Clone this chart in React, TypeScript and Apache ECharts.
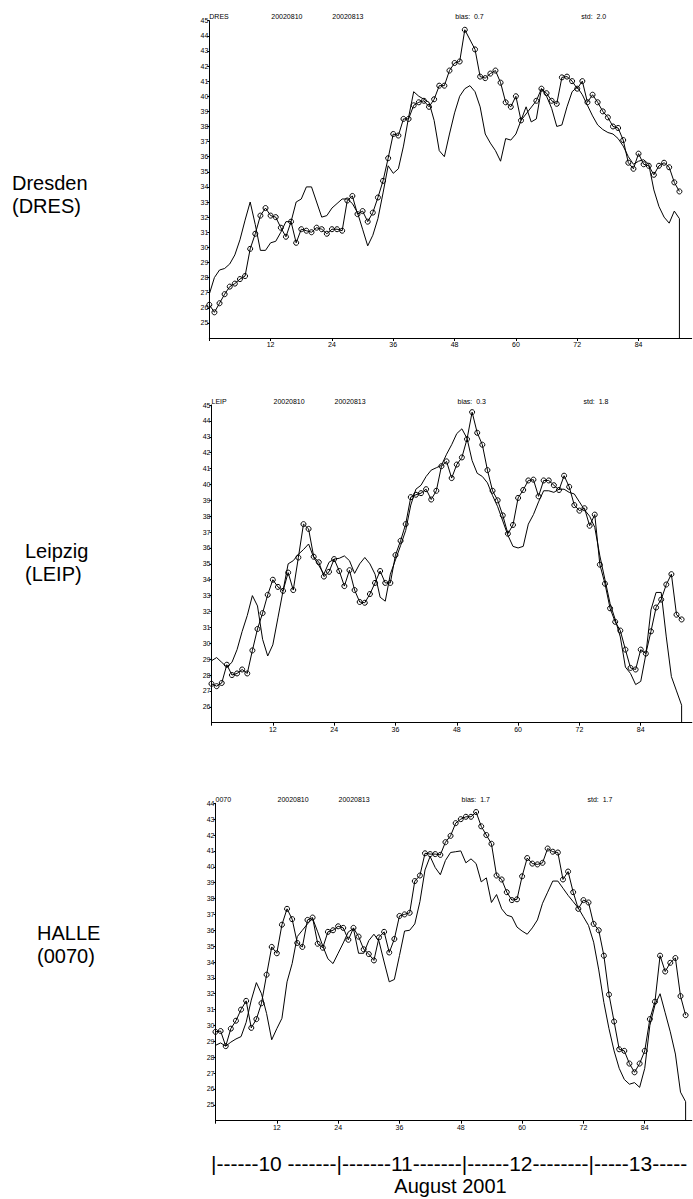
import React, { useEffect, useRef } from "react";
import * as echarts from "echarts";

// ---------- text content ----------
const stationNames = ["Dresden", "Leipzig", "HALLE"];
const stationCodes = ["DRES", "LEIP", "0070"];
const runDates = ["20020810", "20020813"];
const biasValues = ["0.7", "0.3", "1.7"];
const stdValues = ["2.0", "1.8", "1.7"];
const dayAxisText = "|------10 -------|-------11-------|------12--------|-----13-----";
const monthLabel = "August 2001";

// ---------- axes ----------
const yMins = [24, 25, 24];
const yMaxs = [45, 45, 44];
const xTickValues = [0, 12, 24, 36, 48, 60, 72, 84];
const xLabelValues = [12, 24, 36, 48, 60, 72, 84];

// ---------- data (hourly, hour 0..92) ----------
const obsDRES = [
  26.2, 25.7, 26.3, 26.9, 27.4, 27.6, 27.9, 28.1, 29.9, 30.9,
  32.1, 32.6, 32.1, 32.0, 31.3, 30.7, 31.7, 30.3, 31.2, 31.1,
  31.0, 31.3, 31.2, 30.9, 31.2, 31.2, 31.1, 33.1, 33.4, 32.2,
  32.4, 31.7, 32.3, 33.3, 34.4, 35.9, 37.5, 37.4, 38.5, 38.5,
  39.4, 39.6, 39.7, 39.3, 39.8, 40.7, 40.7, 41.7, 42.2, 42.3,
  44.4, null, 43.1, 41.3, 41.2, 41.5, 41.7, 40.9, 39.6, 39.3,
  40.0, 38.4, null, null, 39.7, 40.5, 40.2, 39.7, 39.5, 41.25,
  41.3, 41.0, 40.5, 41.0, 39.6, 40.1, 39.6, 39.0, 38.6, 38.0,
  37.9, 37.1, 35.6, 35.2, 36.2, 35.5, 35.4, 34.8, 35.4, 35.6,
  35.3, 34.3, 33.7,
];
const modelDRES = [
  26.9, 28.0, 28.5, 28.6, 28.9, 29.5, 30.5, 31.8, 33.0, 31.5,
  29.8, 29.8, 30.3, 30.4, 31.0, 31.7, 31.7, 33.0, 33.2, 34.0,
  34.0, 33.0, 32.0, 32.1, 32.6, 32.9, 33.2, 33.2, 32.9, 32.3,
  31.2, 30.1, 30.8, 31.9, 33.6, 35.4, 34.9, 35.2, 36.7, 38.6,
  40.3, 40.0, 39.8, 39.6, 38.4, 36.4, 36.0, 37.5, 38.9, 40.0,
  40.5, 40.7, 40.3, 39.3, 37.5, 36.9, 36.4, 35.7, 37.2, 37.1,
  37.5, 38.4, 39.3, 38.3, 38.5, 40.5, 40.0, 39.2, 38.0, 38.1,
  39.3, 40.3, 40.6, 40.1, 39.4, 38.7, 38.1, 37.8, 37.6, 37.5,
  37.2, 36.7, 36.0, 35.5, 35.7, 35.8, 35.5, 33.8, 32.7, 32.0,
  31.6, 32.4, 31.9,
];
const obsLEIP = [
  27.45, 27.3, 27.5, 28.65, 28.0, 28.1, 28.35, 28.1, 29.55, 30.9,
  31.9, 33.05, 34.0, 33.55, 33.3, 34.45, 33.35, 35.4, 37.5, 37.2,
  35.45, 35.1, 34.2, 34.5, 35.3, 34.55, 33.6, 34.6, 33.35, 32.6,
  32.55, 33.1, 33.8, 34.55, 33.8, 33.8, 35.55, 36.45, 37.5, 39.2,
  39.35, 39.45, 39.7, 39.05, 39.6, 41.15, 41.45, 40.4, 41.25, 41.7,
  42.85, 44.55, 43.25, 42.5, 40.9, 39.6, 39.0, 38.05, 36.9, 37.45,
  39.15, 39.65, 40.25, 40.3, 39.25, 40.25, 40.25, 39.95, 39.65, 40.55,
  39.85, 38.7, 38.35, 38.5, 37.4, 38.1, 34.95, 33.75, 32.2, 31.35,
  30.8, 29.6, 28.45, 28.35, 29.6, 29.35, 30.75, 32.25, 32.75, 33.7,
  34.35, 31.8, 31.5,
];
const modelLEIP = [
  28.9, 29.1, 28.8, 28.5, 28.8, 29.6, 30.75, 31.75, 33.0, 32.35,
  30.25, 29.2, 29.9, 31.6, 33.3, 35.0, 35.2, 35.6, 35.9, 36.25,
  35.4, 34.9, 34.35, 35.1, 35.3, 35.35, 35.5, 35.2, 34.4, 35.0,
  35.4, 35.0, 34.35, 32.9, 32.65, 34.35, 35.25, 36.15, 37.1, 38.7,
  39.7, 39.95, 40.5, 40.9, 41.05, 41.2, 41.9, 42.5, 43.2, 43.5,
  42.9, 41.5, 40.7, 40.5, 40.1, 39.3, 38.6, 37.7, 36.8, 36.1,
  36.0, 36.1, 37.5, 38.1, 38.9, 39.6, 39.6, 39.5, 39.7, 39.7,
  39.5, 39.4, 38.9, 38.4, 38.0, 37.3, 35.5, 34.0, 32.5, 31.5,
  30.4, 28.5, 28.1, 27.4, 27.6, 29.3, 32.1, 33.2, 33.2, 30.4,
  27.9, 27.0, 26.1,
];
const obs0070 = [
  29.6, 29.65, 28.7, 29.8, 30.3, 31.0, 31.55, 29.85, 30.4, 31.4,
  33.2, 34.95, 34.55, 36.35, 37.35, 36.7, 35.2, 34.95, 36.65, 36.8,
  35.15, 34.9, 35.9, 36.0, 36.25, 36.15, 35.4, 36.15, 35.6, 34.8,
  34.5, 34.1, 35.55, 35.9, 34.6, 35.45, 36.9, 37.0, 37.1, 39.1,
  39.45, 40.85, 40.8, 40.8, 40.75, 41.55, 41.95, 42.75, 43.0, 43.15,
  43.15, 43.45, 42.55, 42.0, 41.45, 39.45, 39.2, 38.4, 37.9, 37.95,
  39.4, 40.55, 40.2, 40.15, 40.25, 41.15, 40.95, 40.9, 39.2, 39.7,
  38.4, 37.35, 37.9, 37.75, 36.4, 36.0, 34.4, 31.95, 30.25, 28.5,
  28.4, 27.6, 27.05, 27.6, 28.4, 30.4, 31.5, 34.4, 33.4, 33.95,
  34.25, 31.85, 30.65,
];
const model0070 = [
  28.75, 28.9, 28.7, 28.95, 29.15, 29.3, 30.2, 31.6, 32.7, 32.0,
  30.75, 29.1, 29.8, 30.45, 32.75, 33.9, 35.6, 36.0, 36.4, 36.75,
  35.9, 35.0, 34.2, 33.9, 34.55, 35.2, 35.9, 36.1, 34.55, 34.55,
  35.35, 35.75, 35.3, 34.0, 32.75, 32.9, 34.4, 35.95, 36.0, 36.4,
  37.8, 39.8, 40.65, 39.95, 39.5, 40.4, 40.9, 40.95, 41.0, 40.25,
  40.5, 40.2, 39.05, 39.3, 37.75, 38.25, 37.35, 36.95, 36.85, 36.2,
  35.95, 35.75, 36.15, 36.65, 37.7, 38.4, 39.1, 39.1, 38.65, 38.2,
  37.8, 37.4, 36.85, 36.3, 35.25, 33.5, 31.45, 29.8, 28.4, 27.3,
  26.6, 26.3, 26.4, 26.1, 27.3, 30.0, 31.3, 32.0, 30.8, 29.6,
  28.2, 25.8, 25.2,
];

const observed = [obsDRES, obsLEIP, obs0070];
const modelled = [modelDRES, modelLEIP, model0070];

// ---------- layout (pixels) ----------
const HOUR_PX = 5.11;
const panelLayout = [
  { left: 209.3, top: 20.7, height: 317.3, xMax: 94.4, labelX: 12, labelY: 183 },
  { left: 211.5, top: 405, height: 317.7, xMax: 94, labelX: 25, labelY: 551 },
  { left: 215.5, top: 803.3, height: 317.4, xMax: 93.2, labelX: 37, labelY: 933 },
];
const headerOffsets = [0, 62, 123, 246, 372];
const FONT = "'Liberation Sans', Arial, sans-serif";

function buildOption() {
  const grid = panelLayout.map((p) => ({
    left: p.left,
    top: p.top,
    width: p.xMax * HOUR_PX,
    height: p.height,
    containLabel: false,
  }));

  const xAxis = panelLayout.map((p, i) => ({
    type: "value",
    gridIndex: i,
    min: 0,
    max: p.xMax,
    interval: 12,
    axisLine: { show: true, onZero: false, lineStyle: { color: "#000", width: 1 } },
    axisTick: { show: true, length: 3, customValues: xTickValues, lineStyle: { color: "#000", width: 1 } },
    axisLabel: {
      show: true,
      customValues: xLabelValues,
      fontSize: 7,
      fontFamily: FONT,
      color: "#000",
      margin: 3,
    },
    splitLine: { show: false },
  }));

  const yAxis = panelLayout.map((p, i) => ({
    type: "value",
    gridIndex: i,
    min: yMins[i],
    max: yMaxs[i],
    interval: 1,
    axisLine: { show: true, onZero: false, lineStyle: { color: "#000", width: 1 } },
    axisTick: { show: true, length: 2, lineStyle: { color: "#000", width: 1 } },
    axisLabel: {
      show: true,
      showMinLabel: false,
      fontSize: 7,
      fontFamily: FONT,
      color: "#000",
      margin: 1,
    },
    splitLine: { show: false },
  }));

  const series: any[] = [];
  panelLayout.forEach((p, i) => {
    const model = modelled[i];
    const modelData = model.map((v, h) => [h, v]);
    // the model trace ends with a vertical drop to the bottom of the axis
    modelData.push([model.length - 1, yMins[i]]);
    series.push({
      type: "line",
      name: stationCodes[i] + " model",
      xAxisIndex: i,
      yAxisIndex: i,
      data: modelData,
      symbol: "none",
      showSymbol: false,
      lineStyle: { color: "#000", width: 1 },
      silent: true,
      z: 2,
    });
    series.push({
      type: "line",
      name: stationCodes[i] + " obs",
      xAxisIndex: i,
      yAxisIndex: i,
      data: observed[i].map((v, h) => [h, v]),
      connectNulls: true,
      symbol: "circle",
      symbolSize: 5,
      showSymbol: true,
      itemStyle: { color: "rgba(255,255,255,0)", borderColor: "#000", borderWidth: 1 },
      lineStyle: { color: "#000", width: 1 },
      silent: true,
      z: 3,
    });
  });

  const graphic: any[] = [];
  panelLayout.forEach((p, i) => {
    const headerY = p.top - 4;
    const headerTexts = [
      stationCodes[i],
      runDates[0],
      runDates[1],
      "bias:\u00a0\u00a0" + biasValues[i],
      "std:\u00a0\u00a0" + stdValues[i],
    ];
    headerTexts.forEach((t, k) => {
      graphic.push({
        type: "text",
        x: p.left + headerOffsets[k],
        y: headerY,
        style: { text: t, fontSize: 7, fontFamily: FONT, fill: "#000", align: "left", verticalAlign: "middle" },
      });
    });
    graphic.push({
      type: "text",
      x: p.labelX,
      y: p.labelY,
      style: { text: stationNames[i], fontSize: 20, fontFamily: FONT, fill: "#000", align: "left", verticalAlign: "middle" },
    });
    graphic.push({
      type: "text",
      x: p.labelX,
      y: p.labelY + 23,
      style: { text: "(" + stationCodes[i] + ")", fontSize: 20, fontFamily: FONT, fill: "#000", align: "left", verticalAlign: "middle" },
    });
  });
  graphic.push({
    type: "text",
    x: 211,
    y: 1163,
    style: { text: dayAxisText, fontSize: 21, fontFamily: FONT, fill: "#000", align: "left", verticalAlign: "middle" },
  });
  graphic.push({
    type: "text",
    x: 450.5,
    y: 1186,
    style: { text: monthLabel, fontSize: 20, fontFamily: FONT, fill: "#000", align: "center", verticalAlign: "middle" },
  });

  return {
    animation: false,
    backgroundColor: "#fff",
    grid,
    xAxis,
    yAxis,
    series,
    graphic,
  };
}

export default function App() {
  const ref = useRef<HTMLDivElement>(null);
  useEffect(() => {
    if (!ref.current) return;
    const chart = echarts.init(ref.current, undefined, { renderer: "svg" });
    chart.setOption(buildOption() as any);
    return () => chart.dispose();
  }, []);
  return (
    <div
      ref={ref}
      style={{ position: "absolute", left: 0, top: 0, width: 693, height: 1199, background: "#fff" }}
    />
  );
}
